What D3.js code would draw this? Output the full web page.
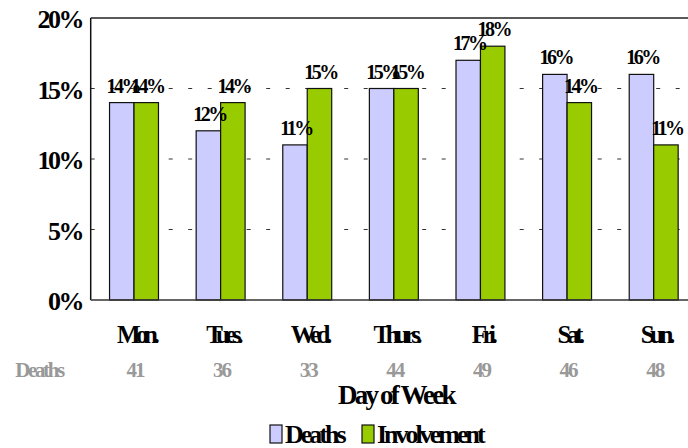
<!DOCTYPE html>
<html>
<head>
<meta charset="utf-8">
<script src="https://cdn.jsdelivr.net/npm/d3@7"></script>
<style>
  html, body { margin: 0; padding: 0; background: #fff; overflow: hidden; }
  text { font-family: "Liberation Serif", "Times New Roman", serif; font-weight: bold; }
</style>
</head>
<body>
<script>
// chart values
var days = ['Mon.', 'Tues.', 'Wed.', 'Thurs.', 'Fri.', 'Sat.', 'Sun.'];
var series = ['Deaths', 'Involvement'];
var deathsPct = [14, 12, 11, 15, 17, 16, 16];
var involvementPct = [14, 14, 15, 15, 18, 14, 11];
var deathCounts = [41, 36, 33, 44, 49, 46, 48];
var yTicks = [0, 5, 10, 15, 20];

var colors = { Deaths: '#ccccff', Involvement: '#99cc00' };

var width = 688, height = 448;
// note: "top" is taken by window.top, so use plot* names
var plotLeft = 90.7, plotRight = 697, plotTop = 18, plotBottom = 300;

var svg = d3.select('body').append('svg')
  .attr('width', width)
  .attr('height', height);

var x = d3.scaleBand().domain(days).range([plotLeft, plotRight]);
var xs = d3.scaleBand().domain(series).range([0, x.bandwidth()]).paddingOuter(0.77);
var y = d3.scaleLinear().domain([0, 20]).range([plotBottom, plotTop]);

var rows = days.map(function(d, i) {
  return { day: d, Deaths: deathsPct[i], Involvement: involvementPct[i], count: deathCounts[i] };
});

// dashed gridlines
svg.append('g').selectAll('line')
  .data(yTicks.filter(function(t) { return t > 0 && t < 20; }))
  .enter().append('line')
  .attr('x1', plotLeft).attr('x2', plotRight)
  .attr('y1', function(d) { return y(d); })
  .attr('y2', function(d) { return y(d); })
  .attr('stroke', '#333')
  .attr('stroke-width', 1)
  .attr('stroke-dasharray', '4,15.5');

// frame
svg.append('line').attr('x1', plotLeft).attr('x2', plotRight).attr('y1', plotTop).attr('y2', plotTop)
  .attr('stroke', '#222').attr('stroke-width', 1.5);
svg.append('line').attr('x1', plotLeft).attr('x2', plotLeft).attr('y1', plotTop).attr('y2', plotBottom)
  .attr('stroke', '#111').attr('stroke-width', 1.5);

// bars
var groups = svg.append('g').selectAll('g')
  .data(rows)
  .enter().append('g')
  .attr('transform', function(d) { return 'translate(' + x(d.day) + ',0)'; });

groups.selectAll('rect')
  .data(function(d) { return series.map(function(s) { return { key: s, value: d[s] }; }); })
  .enter().append('rect')
  .attr('x', function(d) { return xs(d.key); })
  .attr('width', xs.bandwidth())
  .attr('y', function(d) { return y(d.value); })
  .attr('height', function(d) { return plotBottom - y(d.value); })
  .attr('fill', function(d) { return colors[d.key]; })
  .attr('stroke', '#111')
  .attr('stroke-width', 1.2);

groups.selectAll('text.val')
  .data(function(d) { return series.map(function(s) { return { key: s, value: d[s] }; }); })
  .enter().append('text')
  .attr('class', 'val')
  .attr('x', function(d) { return xs(d.key) + xs.bandwidth() / 2 + 1; })
  .attr('y', function(d) { return y(d.value) - 10; })
  .attr('text-anchor', 'middle')
  .attr('font-size', 20)
  .attr('letter-spacing', -2.5)
  .text(function(d) { return d.value + '%'; });

// bottom axis line
svg.append('line').attr('x1', plotLeft).attr('x2', plotRight).attr('y1', plotBottom).attr('y2', plotBottom)
  .attr('stroke', '#333').attr('stroke-width', 1.5);

// y tick labels
svg.append('g').selectAll('text')
  .data(yTicks)
  .enter().append('text')
  .attr('x', 82)
  .attr('y', function(d) { return y(d) + 10; })
  .attr('text-anchor', 'end')
  .attr('font-size', 26)
  .attr('letter-spacing', -2.5)
  .text(function(d) { return d + '%'; });

// category labels
svg.append('g').selectAll('text')
  .data(rows)
  .enter().append('text')
  .attr('x', function(d) { return x(d.day) + x.bandwidth() / 2 + 2; })
  .attr('y', 343)
  .attr('text-anchor', 'middle')
  .attr('font-size', 25)
  .attr('letter-spacing', -4.5)
  .text(function(d) { return d.day; });

// deaths count row
svg.append('text')
  .attr('x', 39).attr('y', 377)
  .attr('text-anchor', 'middle')
  .attr('font-size', 21)
  .attr('letter-spacing', -2.4)
  .attr('fill', '#999')
  .text('Deaths');

svg.append('g').selectAll('text')
  .data(rows)
  .enter().append('text')
  .attr('x', function(d) { return x(d.day) + x.bandwidth() / 2 + 1; })
  .attr('y', 377)
  .attr('text-anchor', 'middle')
  .attr('font-size', 21)
  .attr('letter-spacing', -2)
  .attr('fill', '#999')
  .text(function(d) { return d.count; });

// axis title
svg.append('text')
  .attr('x', (plotLeft + plotRight) / 2 + 2).attr('y', 404)
  .attr('text-anchor', 'middle')
  .attr('font-size', 27)
  .attr('letter-spacing', -2.8)
  .text('Day of Week');

// legend
var legendX = [270, 362];
var legend = svg.append('g').selectAll('g')
  .data(series)
  .enter().append('g')
  .attr('transform', function(d, i) { return 'translate(' + legendX[i] + ',425)'; });

legend.append('rect')
  .attr('width', 12).attr('height', 18)
  .attr('fill', function(d) { return colors[d]; })
  .attr('stroke', '#111').attr('stroke-width', 1.2);

legend.append('text')
  .attr('x', 15).attr('y', 18)
  .attr('font-size', 26)
  .attr('letter-spacing', -3)
  .text(function(d) { return d; });
</script>
</body>
</html>
